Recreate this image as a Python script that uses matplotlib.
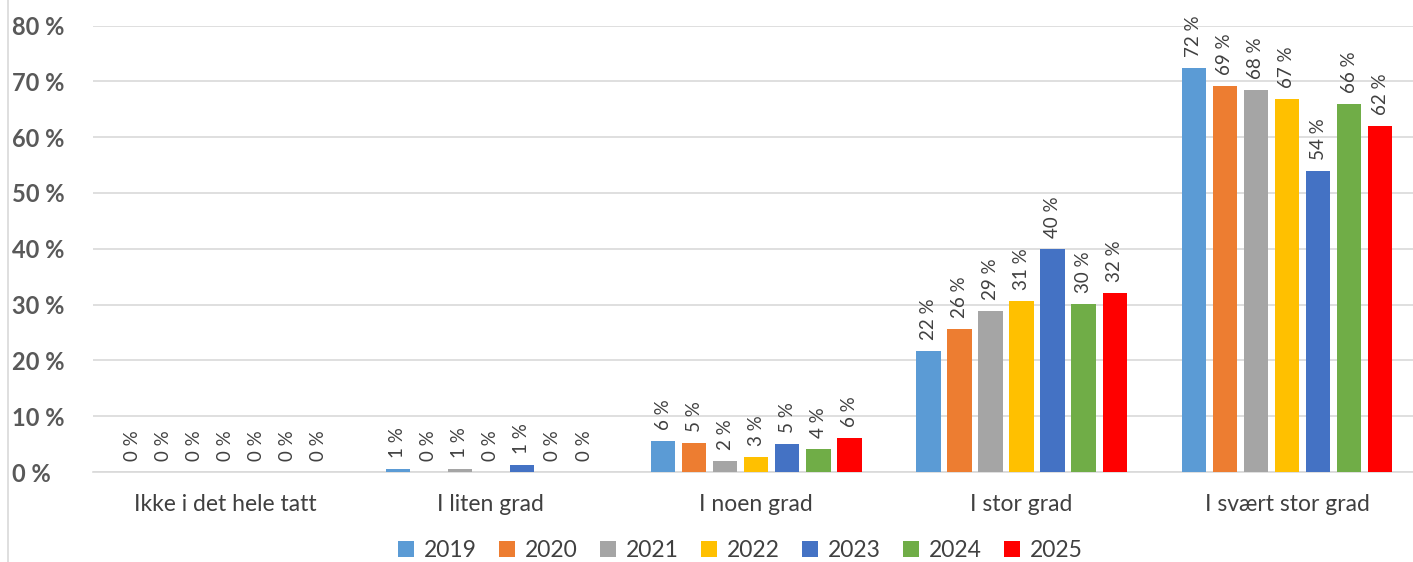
import numpy as np
import matplotlib
matplotlib.use('Agg')
import matplotlib.pyplot as plt
from matplotlib.lines import Line2D

plt.rcParams['font.family'] = ['Lato', 'DejaVu Sans']

# Data
categories = ['Ikke i det hele tatt', 'I liten grad', 'I noen grad', 'I stor grad', 'I svært stor grad']
years = ['2019', '2020', '2021', '2022', '2023', '2024', '2025']
v2019 = [0, 0.55, 5.6, 21.7, 72.4]
v2020 = [0, 0, 5.2, 25.6, 69.2]
v2021 = [0, 0.6, 2.0, 28.9, 68.4]
v2022 = [0, 0, 2.7, 30.6, 66.8]
v2023 = [0, 1.2, 5.0, 40.0, 53.9]
v2024 = [0, 0, 4.1, 30.1, 65.9]
v2025 = [0, 0, 6.1, 32.1, 62.0]
series = [v2019, v2020, v2021, v2022, v2023, v2024, v2025]
colors = ['#5B9BD5', '#ED7D31', '#A5A5A5', '#FFC000', '#4472C4', '#70AD47', '#FF0000']

fig = plt.figure(figsize=(14.13, 5.62), dpi=100)
ax = fig.add_axes([0.0657, 0.1601, 0.939, 0.7945])

x = np.arange(len(categories))
slot = 0.117
width = 0.092
for i, (vals, c, yr) in enumerate(zip(series, colors, years)):
    pos = x + (i - 3) * slot
    ax.bar(pos, vals, width=width, color=c, label=yr, zorder=3)
    for px, v in zip(pos, vals):
        ax.annotate(f'{v:.0f} %', (px, v), xytext=(0, 8), textcoords='offset points',
                    rotation=90, ha='center', va='bottom', fontsize=13.5, color='#404040')

ax.set_xlim(-0.5, len(categories) - 0.5)
ax.set_ylim(0, 80)
ax.set_yticks(range(0, 81, 10))
ax.set_yticklabels([f'{t} %' for t in range(0, 81, 10)], fontsize=17, fontweight='bold', color='#595959')
for lab in ax.get_yticklabels():
    lab.set_horizontalalignment('left')
ax.tick_params(axis='y', length=0, pad=58)
ax.set_xticks(x)
ax.set_xticklabels(categories, fontsize=16.5, color='#404040')
ax.tick_params(axis='x', length=0, pad=16)

ax.grid(axis='y', color='#D9D9D9', linewidth=1.2, zorder=0)
for s in ['top', 'right', 'left']:
    ax.spines[s].set_visible(False)
ax.spines['bottom'].set_color('#D9D9D9')
ax.spines['bottom'].set_linewidth(1.2)

# chart border on the left
fig.add_artist(Line2D([0.0057, 0.0057], [0.0, 1.0], color='#D9D9D9', linewidth=1.2))

handles, labels = ax.get_legend_handles_labels()
fig.legend(handles, labels, loc='center', bbox_to_anchor=(0.524, 0.02), ncol=7, frameon=False,
           fontsize=16.5, handlelength=0.7, handleheight=0.7, handletextpad=0.4, columnspacing=1.0,
           labelcolor='#404040', borderaxespad=0)

fig.savefig('out.png', dpi=100)
